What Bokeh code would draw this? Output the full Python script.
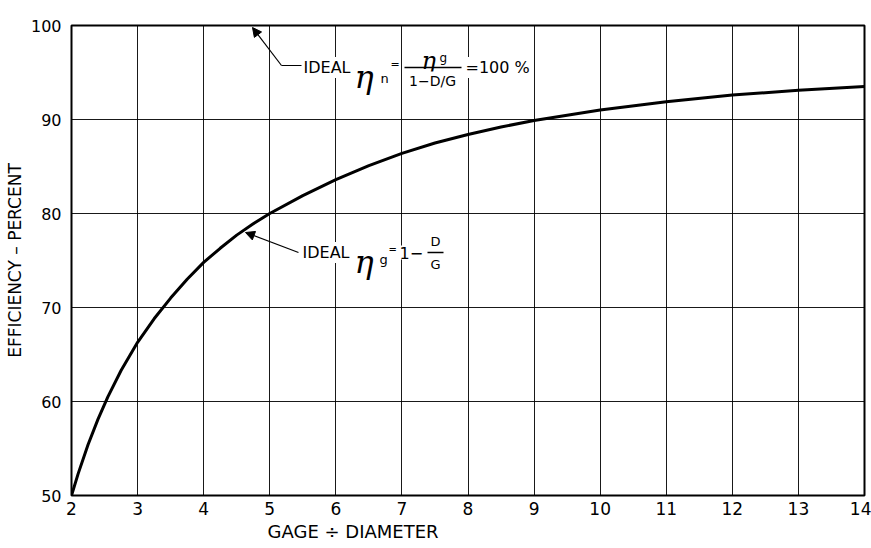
from bokeh.plotting import figure
from bokeh.models import Range1d, Label, Arrow, NormalHead, FixedTicker, Title
from bokeh.embed import file_html
from bokeh.resources import INLINE

# ---- data ----
gage_over_diameter = [2, 2.1, 2.25, 2.4, 2.55, 2.75, 3, 3.25, 3.5, 3.75, 4, 4.25, 4.5, 4.75, 5,
                      5.5, 6, 6.5, 7, 7.5, 8, 8.5, 9, 10, 11, 12, 13, 14]
efficiency_pct = [50, 52.3, 55.4, 58.1, 60.5, 63.3, 66.3, 68.8, 71.0, 73.0, 74.8, 76.3, 77.7, 78.9, 80.0,
                  81.9, 83.6, 85.1, 86.4, 87.5, 88.4, 89.2, 89.9, 91.0, 91.9, 92.6, 93.1, 93.5]
x_ticks = [2, 3, 4, 5, 6, 7, 8, 9, 10, 11, 12, 13, 14]
y_ticks = [50, 60, 70, 80, 90, 100]
ideal_n_value = 100

W, H = 871, 548
L, R, T, B = 71, 7, 25, 53
FONT = "DejaVu Sans"

p = figure(width=W, height=H, output_backend="svg", toolbar_location=None,
           x_range=Range1d(2, 14), y_range=Range1d(50, 100),
           min_border_left=L, min_border_right=R, min_border_top=T, min_border_bottom=B)
p.background_fill_color = "white"
p.border_fill_color = "white"
p.outline_line_color = "black"
p.outline_line_width = 2

# grid
p.xaxis.ticker = FixedTicker(ticks=x_ticks)
p.yaxis.ticker = FixedTicker(ticks=y_ticks)
for g in (p.xgrid, p.ygrid):
    g.grid_line_color = "black"
    g.grid_line_width = 1
    g.grid_line_alpha = 0.9

for ax in (p.xaxis, p.yaxis):
    ax.axis_line_color = None
    ax.major_tick_line_color = None
    ax.minor_tick_line_color = None
    ax.major_label_text_font = FONT
    ax.major_label_text_font_size = "17px"
    ax.major_label_text_color = "black"
p.yaxis.major_label_text_font_size = "16px"
p.xaxis.major_label_standoff = 0
p.yaxis.major_label_standoff = 4
p.yaxis.axis_label = "EFFICIENCY \u2013 PERCENT"
p.yaxis.axis_label_text_font = FONT
p.yaxis.axis_label_text_font_size = "17px"
p.yaxis.axis_label_text_font_style = "normal"
p.yaxis.axis_label_text_color = "black"
p.yaxis.axis_label_standoff = 3

# x axis title, off-centre as in the reference
p.add_layout(Title(text="GAGE \u00f7 DIAMETER", align="left", offset=196,
                   text_font=FONT, text_font_size="18px", text_font_style="normal",
                   text_color="black", standoff=3), "below")

# curve
p.line(gage_over_diameter, efficiency_pct, line_color="black", line_width=3)

# pixel -> data helpers for annotation placement
def X(px):
    return 2 + (px - L) * 12.0 / (W - L - R)

def Y(py):
    return 100 - (py - T) * 50.0 / (H - T - B)

def lab(text, px, py, size, align="left", baseline="middle", font=FONT, style="normal", bg=True):
    p.add_layout(Label(x=X(px), y=Y(py), text=text, text_font=font, text_font_size=f"{size}px",
                       text_font_style=style, text_color="black", text_align=align,
                       text_baseline=baseline,
                       background_fill_color="white" if bg else None,
                       padding=1))

# upper annotation
p.add_layout(Arrow(end=NormalHead(size=9, fill_color="black", line_color="black"),
                   x_start=X(281), y_start=Y(65), x_end=X(252), y_end=Y(27),
                   line_color="black", line_width=1.2))
p.segment(x0=[X(281)], y0=[Y(65)], x1=[X(301)], y1=[Y(65)], line_color="black", line_width=1.2)
lab("IDEAL", 302, 67, 16)
lab("\u03b7", 353, 76, 32, baseline="alphabetic", font="DejaVu Serif", style="italic", bg=False)
lab("n", 379, 78, 13, bg=False)
lab("=", 389, 64, 11, bg=False)
lab("\u03b7", 420, 60, 24, baseline="alphabetic", font="DejaVu Serif", style="italic", bg=False)
lab("g", 438, 57, 12, bg=False)
p.segment(x0=[X(404)], y0=[Y(67)], x1=[X(461)], y1=[Y(67)], line_color="black", line_width=1.5)
lab("1\u2212D/G", 432, 80, 14, align="center")
lab(f"={ideal_n_value} %", 464, 67, 16)

# lower annotation
p.add_layout(Arrow(end=NormalHead(size=9, fill_color="black", line_color="black"),
                   x_start=X(298), y_start=Y(252), x_end=X(245), y_end=Y(232),
                   line_color="black", line_width=1.2))
lab("IDEAL", 301, 252, 16)
lab("\u03b7", 353, 261, 32, baseline="alphabetic", font="DejaVu Serif", style="italic", bg=False)
lab("g", 378, 259, 13, bg=False)
lab("=", 387, 249, 10, bg=False)
lab("1\u2212", 398, 252, 16)
lab("D", 435, 241, 13, align="center")
p.segment(x0=[X(427)], y0=[Y(252)], x1=[X(443)], y1=[Y(252)], line_color="black", line_width=1.5)
lab("G", 435, 264, 13, align="center")

open("out.html", "w").write(file_html(p, INLINE))
